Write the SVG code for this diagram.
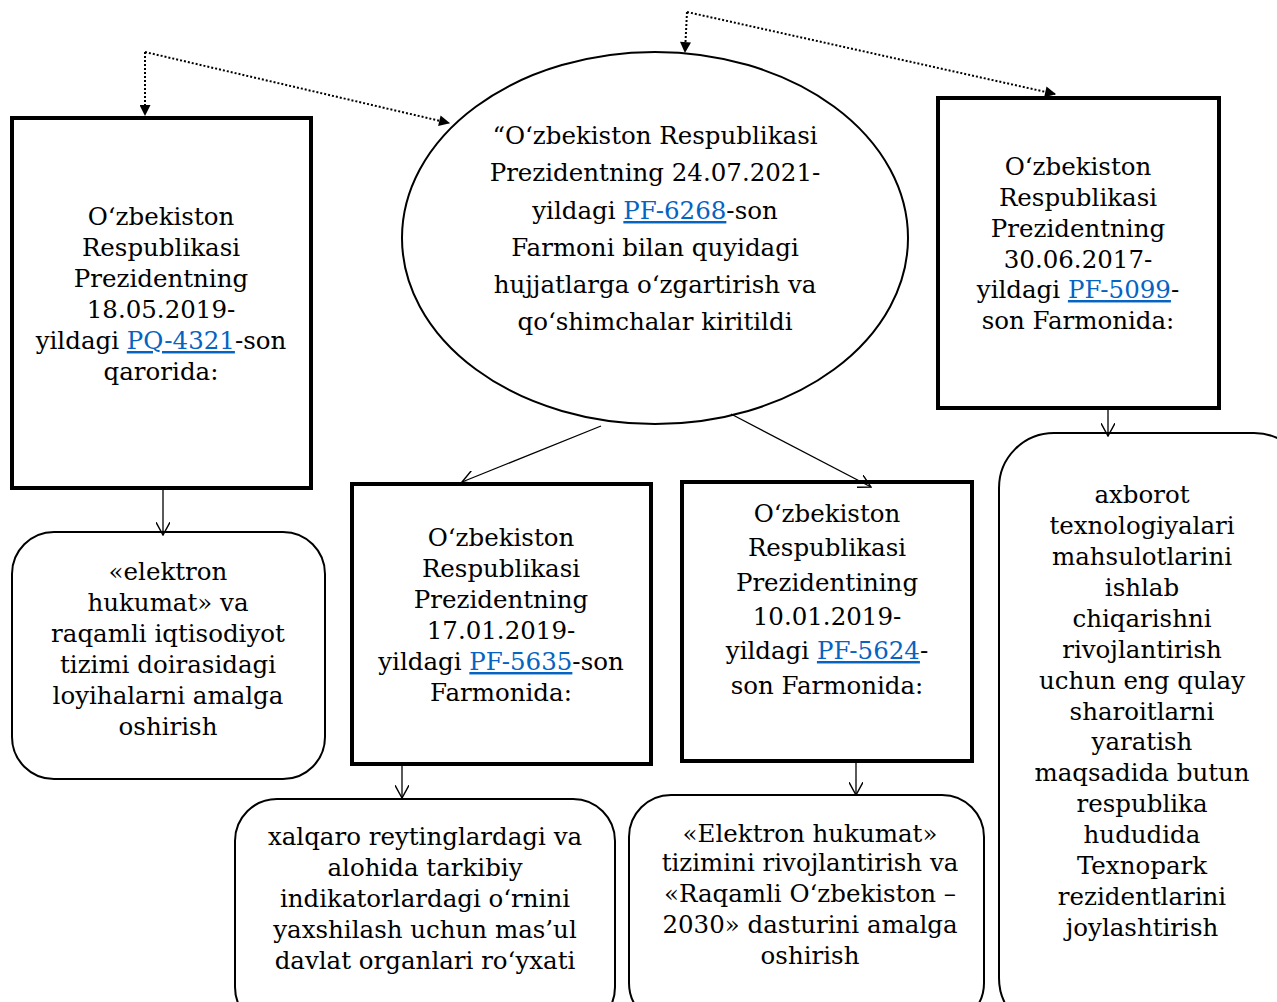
<svg xmlns="http://www.w3.org/2000/svg" width="1277" height="1002" viewBox="0 0 1277 1002">
<defs>
<marker id="tri" viewBox="0 0 10 10" refX="9" refY="5" markerWidth="12" markerHeight="11" markerUnits="userSpaceOnUse" orient="auto"><path d="M0,0 L10,5 L0,10 z" fill="#000"/></marker>
<marker id="vee" viewBox="0 0 12 12" refX="11" refY="6" markerWidth="14" markerHeight="14" markerUnits="userSpaceOnUse" orient="auto"><path d="M0,0 L11,6 L0,12" fill="none" stroke="#000" stroke-width="1.2"/></marker>
<style>
.box{fill:#fff;stroke:#000;stroke-width:4}
.rbox{fill:#fff;stroke:#000;stroke-width:2}
.t{font-family:"DejaVu Serif","Liberation Serif",serif;font-size:24.5px;fill:#000;text-anchor:middle}
.lnk{fill:#0563C1;text-decoration:underline}
.dot{fill:none;stroke:#000;stroke-width:2;stroke-dasharray:2 2}
.sol{fill:none;stroke:#000;stroke-width:1.3}
</style>
</defs>
<rect width="1277" height="1002" fill="#fff"/>
<g id="n1"><rect class="box" x="12" y="118" width="299" height="370"/>
<text class="t" x="161"><tspan x="161" y="225">O‘zbekiston</tspan><tspan x="161" y="256">Respublikasi</tspan><tspan x="161" y="287">Prezidentning</tspan><tspan x="161" y="318">18.05.2019-</tspan><tspan x="161" y="349">yildagi <tspan class="lnk">PQ-4321</tspan>-son</tspan><tspan x="161" y="380">qarorida:</tspan></text></g>
<g id="n2"><ellipse class="rbox" cx="655" cy="238" rx="253" ry="186"/>
<text class="t"><tspan x="655" y="144">“O‘zbekiston Respublikasi</tspan><tspan x="655" y="181">Prezidentning 24.07.2021-</tspan><tspan x="655" y="219">yildagi <tspan class="lnk">PF-6268</tspan>-son</tspan><tspan x="655" y="256">Farmoni bilan quyidagi</tspan><tspan x="655" y="293">hujjatlarga o‘zgartirish va</tspan><tspan x="655" y="330">qo‘shimchalar kiritildi</tspan></text></g>
<g id="n3"><rect class="box" x="938" y="98" width="281" height="310"/>
<text class="t"><tspan x="1078" y="175">O‘zbekiston</tspan><tspan x="1078" y="206">Respublikasi</tspan><tspan x="1078" y="237">Prezidentning</tspan><tspan x="1078" y="268">30.06.2017-</tspan><tspan x="1078" y="298">yildagi <tspan class="lnk">PF-5099</tspan>-</tspan><tspan x="1078" y="329">son Farmonida:</tspan></text></g>
<g id="n4"><rect class="box" x="352" y="484" width="299" height="280"/>
<text class="t"><tspan x="501" y="546">O‘zbekiston</tspan><tspan x="501" y="577">Respublikasi</tspan><tspan x="501" y="608">Prezidentning</tspan><tspan x="501" y="639">17.01.2019-</tspan><tspan x="501" y="670">yildagi <tspan class="lnk">PF-5635</tspan>-son</tspan><tspan x="501" y="701">Farmonida:</tspan></text></g>
<g id="n5"><rect class="box" x="682" y="482" width="290" height="279"/>
<text class="t"><tspan x="827" y="522">O‘zbekiston</tspan><tspan x="827" y="556">Respublikasi</tspan><tspan x="827" y="591">Prezidentining</tspan><tspan x="827" y="625">10.01.2019-</tspan><tspan x="827" y="659">yildagi <tspan class="lnk">PF-5624</tspan>-</tspan><tspan x="827" y="694">son Farmonida:</tspan></text></g>
<g id="n6"><rect class="rbox" x="12" y="532" width="313" height="247" rx="42"/>
<text class="t"><tspan x="168" y="580">«elektron</tspan><tspan x="168" y="611">hukumat» va</tspan><tspan x="168" y="642">raqamli iqtisodiyot</tspan><tspan x="168" y="673">tizimi doirasidagi</tspan><tspan x="168" y="704">loyihalarni amalga</tspan><tspan x="168" y="735">oshirish</tspan></text></g>
<g id="n7"><rect class="rbox" x="235" y="799" width="380" height="230" rx="42"/>
<text class="t"><tspan x="425" y="845">xalqaro reytinglardagi va</tspan><tspan x="425" y="876">alohida tarkibiy</tspan><tspan x="425" y="907">indikatorlardagi o‘rnini</tspan><tspan x="425" y="938">yaxshilash uchun mas’ul</tspan><tspan x="425" y="969">davlat organlari ro‘yxati</tspan></text></g>
<g id="n8"><rect class="rbox" x="629" y="795" width="355" height="230" rx="42"/>
<text class="t"><tspan x="810" y="842">«Elektron hukumat»</tspan><tspan x="810" y="871">tizimini rivojlantirish va</tspan><tspan x="810" y="902">«Raqamli O‘zbekiston –</tspan><tspan x="810" y="933">2030» dasturini amalga</tspan><tspan x="810" y="964">oshirish</tspan></text></g>
<g id="n9"><rect class="rbox" x="999" y="433" width="310" height="600" rx="55"/>
<text class="t"><tspan x="1142" y="503">axborot</tspan><tspan x="1142" y="534">texnologiyalari</tspan><tspan x="1142" y="565">mahsulotlarini</tspan><tspan x="1142" y="596">ishlab</tspan><tspan x="1142" y="627">chiqarishni</tspan><tspan x="1142" y="658">rivojlantirish</tspan><tspan x="1142" y="689">uchun eng qulay</tspan><tspan x="1142" y="720">sharoitlarni</tspan><tspan x="1142" y="750">yaratish</tspan><tspan x="1142" y="781">maqsadida butun</tspan><tspan x="1142" y="812">respublika</tspan><tspan x="1142" y="843">hududida</tspan><tspan x="1142" y="874">Texnopark</tspan><tspan x="1142" y="905">rezidentlarini</tspan><tspan x="1142" y="936">joylashtirish</tspan></text></g>
<g id="connectors">
<path class="dot" d="M145,52 V115" marker-end="url(#tri)"/>
<path class="dot" d="M145,52 L449,123" marker-end="url(#tri)"/>
<path class="dot" d="M687,12 L685,52" marker-end="url(#tri)"/>
<path class="dot" d="M687,12 L1055,94" marker-end="url(#tri)"/>
<path class="sol" d="M163,489 V535" marker-end="url(#vee)"/>
<path class="sol" d="M601,426 L462,482" marker-end="url(#vee)"/>
<path class="sol" d="M731,414 L871,487" marker-end="url(#vee)"/>
<path class="sol" d="M402,765 V798" marker-end="url(#vee)"/>
<path class="sol" d="M856,763 V795" marker-end="url(#vee)"/>
<path class="sol" d="M1108,409 V436" marker-end="url(#vee)"/>
</g>
</svg>
